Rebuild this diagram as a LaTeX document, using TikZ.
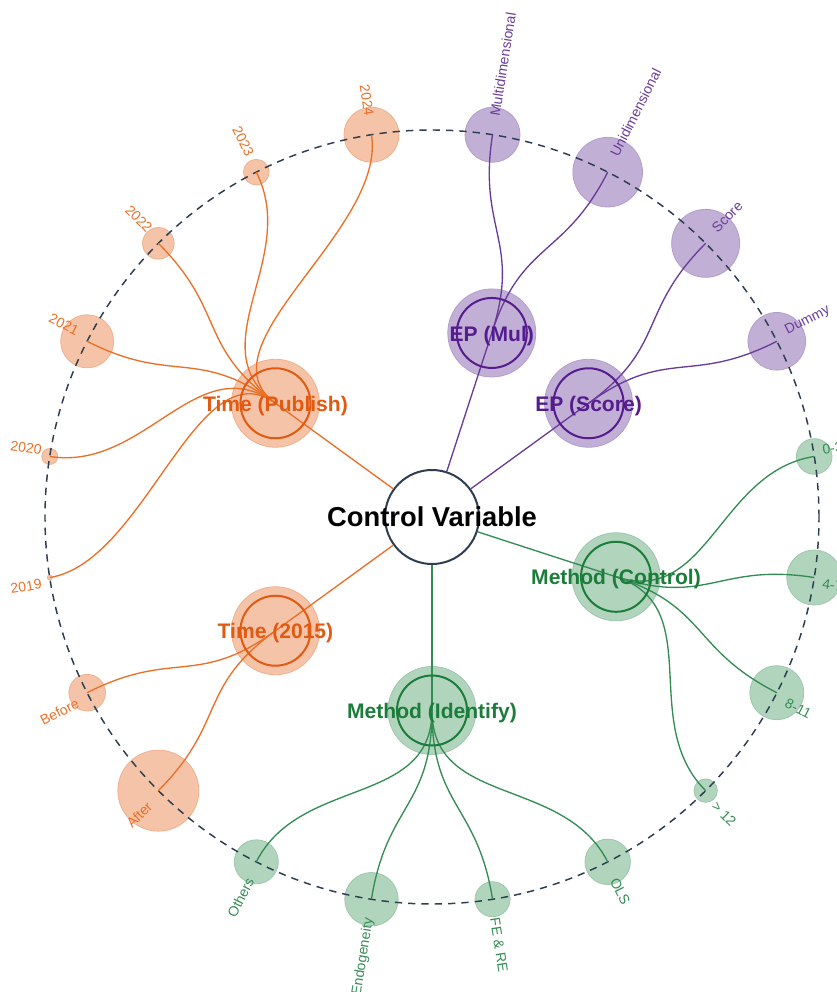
\documentclass[tikz,border=0pt]{standalone}
\usepackage{fontspec}
\setmainfont{Liberation Sans}
\usetikzlibrary{calc}
\definecolor{oFill}{RGB}{245,196,168}
\definecolor{oEdge}{RGB}{240,176,140}
\definecolor{oLine}{RGB}{234,112,40}
\definecolor{oDark}{RGB}{226,90,18}
\definecolor{pFill}{RGB}{193,175,214}
\definecolor{pEdge}{RGB}{178,158,204}
\definecolor{pLine}{RGB}{106,60,154}
\definecolor{pDark}{RGB}{84,28,140}
\definecolor{gFill}{RGB}{177,212,189}
\definecolor{gEdge}{RGB}{158,198,172}
\definecolor{gLine}{RGB}{52,140,85}
\definecolor{gDark}{RGB}{28,124,58}
\definecolor{slate}{RGB}{44,62,80}
\tikzset{
  leafc/.style={circle, inner sep=0pt, fill=#1Fill, draw=#1Edge, line width=0.6pt},
  hubc/.style={circle, inner sep=0pt, minimum size=66pt, fill=#1Fill, draw=#1Edge, line width=0.6pt},
  hubring/.style={draw=#1Dark, line width=1.5pt},
  hubtext/.style={inner sep=0pt, yshift=-2pt, text=#1Dark, font=\bfseries\fontsize{15.8}{18}\selectfont},
  link/.style={draw=#1Line, line width=1pt},
  lblR/.style={anchor=west, rotate=#1, inner sep=0pt, font=\fontsize{10.5}{12}\selectfont},
  lblL/.style={anchor=east, rotate=#1-180, inner sep=0pt, font=\fontsize{10.5}{12}\selectfont},
}
\newcommand{\leaf}[4]{\node[leafc=#4, minimum size=#3*1.5pt] (#1) at (#2:387) {};}
% label: name, angle, side style, colour, radius, vertical shift, text
\newcommand{\lbl}[7]{\node[#3=#2, text=#4] (#1) at ($(#2:#5)+(0,#6)$) {#7};}
\begin{document}
\begin{tikzpicture}[x=0.75pt, y=0.75pt]
\useasboundingbox (-432,-475) rectangle (405,517);
% leaf circles
\leaf{l2024}{99}{27.5}{o}
\leaf{l2023}{117}{12.8}{o}
\leaf{l2022}{135}{15.8}{o}
\leaf{l2021}{153}{26.5}{o}
\leaf{l2020}{171}{8}{o}
\leaf{l2019}{189}{2.5}{o}
\leaf{lBefore}{207}{18.3}{o}
\leaf{lAfter}{225}{40.5}{o}
\leaf{lOthers}{243}{22}{g}
\leaf{lEndo}{261}{26.7}{g}
\leaf{lFERE}{279}{17.5}{g}
\leaf{lOLS}{297}{22.7}{g}
\leaf{lTwelve}{315}{11.7}{g}
\leaf{lEight}{333}{27}{g}
\leaf{lFour}{351}{27.5}{g}
\leaf{lZero}{9}{17.8}{g}
\leaf{lDummy}{27}{28.8}{p}
\leaf{lScore}{45}{34}{p}
\leaf{lUni}{63}{34.8}{p}
\leaf{lMulti}{81}{27.5}{p}
% hub circles
\node[hubc=o] (hPub) at (144:193.5) {};
\node[hubc=o] (hYear) at (216:193.5) {};
\node[hubc=p] (hMul) at (72:193.5) {};
\node[hubc=p] (hScore) at (36:193.5) {};
\node[hubc=g] (hCtrl) at (-18:193.5) {};
\node[hubc=g] (hIdf) at (270:193.5) {};
% dashed ring
\draw[slate, line width=1.1pt, dash pattern=on 5.5pt off 4.5pt] (0,0) circle[radius=387];
% center
\node[circle, inner sep=0pt, minimum size=70.5pt, fill=white, draw=slate, line width=1.5pt] (cv) at (0,0) {};
% straight links
\draw[link=o] (cv) -- (hPub.center);
\draw[link=o] (cv) -- (hYear.center);
\draw[link=p] (cv) -- (hMul.center);
\draw[link=p] (cv) -- (hScore.center);
\draw[link=g] (cv) -- (hCtrl.center);
\draw[link=g] (cv) -- (hIdf.center);
% curved links
\draw[link=o] (hPub.center) .. controls (144:290.25) and (99:290.25) .. (l2024.center);
\draw[link=o] (hPub.center) .. controls (144:290.25) and (117:290.25) .. (l2023.center);
\draw[link=o] (hPub.center) .. controls (144:290.25) and (135:290.25) .. (l2022.center);
\draw[link=o] (hPub.center) .. controls (144:290.25) and (153:290.25) .. (l2021.center);
\draw[link=o] (hPub.center) .. controls (144:290.25) and (171:290.25) .. (l2020.center);
\draw[link=o] (hPub.center) .. controls (144:290.25) and (189:290.25) .. (l2019.center);
\draw[link=o] (hYear.center) .. controls (216:290.25) and (207:290.25) .. (lBefore.center);
\draw[link=o] (hYear.center) .. controls (216:290.25) and (225:290.25) .. (lAfter.center);
\draw[link=g] (hIdf.center) .. controls (270:290.25) and (243:290.25) .. (lOthers.center);
\draw[link=g] (hIdf.center) .. controls (270:290.25) and (261:290.25) .. (lEndo.center);
\draw[link=g] (hIdf.center) .. controls (270:290.25) and (279:290.25) .. (lFERE.center);
\draw[link=g] (hIdf.center) .. controls (270:290.25) and (297:290.25) .. (lOLS.center);
\draw[link=g] (hCtrl.center) .. controls (-18:290.25) and (-45:290.25) .. (lTwelve.center);
\draw[link=g] (hCtrl.center) .. controls (-18:290.25) and (-27:290.25) .. (lEight.center);
\draw[link=g] (hCtrl.center) .. controls (-18:290.25) and (-9:290.25) .. (lFour.center);
\draw[link=g] (hCtrl.center) .. controls (-18:290.25) and (9:290.25) .. (lZero.center);
\draw[link=p] (hScore.center) .. controls (36:290.25) and (27:290.25) .. (lDummy.center);
\draw[link=p] (hScore.center) .. controls (36:290.25) and (45:290.25) .. (lScore.center);
\draw[link=p] (hMul.center) .. controls (72:290.25) and (63:290.25) .. (lUni.center);
\draw[link=p] (hMul.center) .. controls (72:290.25) and (81:290.25) .. (lMulti.center);
% hub rings
\foreach \h/\c in {hPub/o, hYear/o, hMul/p, hScore/p, hCtrl/g, hIdf/g}
  \draw[hubring=\c] (\h.center) circle[radius=35];
% hub texts
\node[hubtext=o] (tPub) at (hPub.center) {Time (Publish)};
\node[hubtext=o] (tYear) at (hYear.center) {Time (2015)};
\node[hubtext=p] (tMul) at (hMul.center) {EP (Mul)};
\node[hubtext=p] (tScore) at (hScore.center) {EP (Score)};
\node[hubtext=g] (tCtrl) at (hCtrl.center) {Method (Control)};
\node[hubtext=g] (tIdf) at (hIdf.center) {Method (Identify)};
\node[inner sep=0pt, font=\bfseries\fontsize{20.5}{24}\selectfont] (tCV) at (cv.center) {Control Variable};
% leaf labels
\lbl{x2024}{99}{lblL}{oLine}{400.9}{5}{2024}
\lbl{x2023}{117}{lblL}{oLine}{400.2}{5}{2023}
\lbl{x2022}{135}{lblL}{oLine}{398.9}{5}{2022}
\lbl{x2021}{153}{lblL}{oLine}{397.2}{5}{2021}
\lbl{x2020}{171}{lblL}{oLine}{395.1}{5}{2020}
\lbl{x2019}{189}{lblL}{oLine}{395.1}{-5}{2019}
\lbl{xBefore}{207}{lblL}{oLine}{397.2}{-5}{Before}
\lbl{xAfter}{225}{lblL}{oLine}{398.9}{-5}{After}
\lbl{xOthers}{243}{lblL}{gLine}{400.2}{-5}{Others}
\lbl{xEndo}{261}{lblL}{gLine}{400.9}{-5}{Endogeneity}
\lbl{xFERE}{279}{lblR}{gLine}{400.9}{-5}{FE \& RE}
\lbl{xOLS}{297}{lblR}{gLine}{400.2}{-5}{OLS}
\lbl{xTwelve}{315}{lblR}{gLine}{398.9}{-5}{> 12}
\lbl{xEight}{333}{lblR}{gLine}{397.2}{-5}{8-11}
\lbl{xFour}{351}{lblR}{gLine}{395.1}{-5}{4-7}
\lbl{xZero}{9}{lblR}{gLine}{395.1}{5}{0-3}
\lbl{xDummy}{27}{lblR}{pLine}{397.2}{5}{Dummy}
\lbl{xScore}{45}{lblR}{pLine}{398.9}{5}{Score}
\lbl{xUni}{63}{lblR}{pLine}{400.2}{5}{Unidimensional}
\lbl{xMulti}{81}{lblR}{pLine}{400.9}{5}{Multidimensional}
\end{tikzpicture}
\end{document}
